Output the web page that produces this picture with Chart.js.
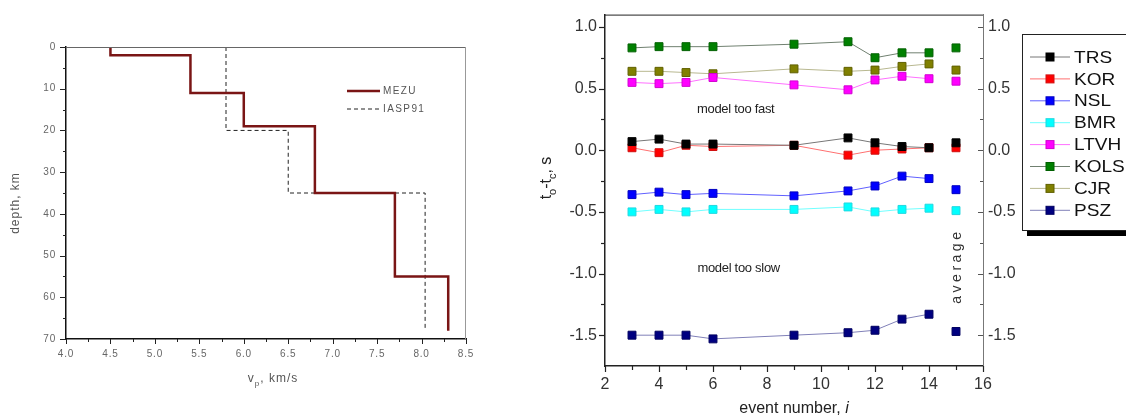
<!DOCTYPE html>
<html>
<head>
<meta charset="utf-8">
<script src="https://cdn.jsdelivr.net/npm/chart.js@4.4.1/dist/chart.umd.min.js"></script>
<style>
    html, body { margin: 0; padding: 0; background: #fff; }
    body { width: 1126px; height: 416px; position: relative; overflow: hidden; }
    #velChart { position: absolute; left: 0; top: 0; }
    #resChart { position: absolute; left: 530px; top: 0; }
</style>
</head>
<body>
<canvas id="velChart" width="490" height="416"></canvas>
<canvas id="resChart" width="596" height="416"></canvas>
<script>
// Velocity models (left panel)
const mezuVp = [4.5, 5.4, 6.0, 6.8, 7.7, 8.3];
const mezuDepth = [0, 2, 11, 19, 35, 55, 68];
const iaspVp = [5.8, 6.5, 8.04];
const iaspDepth = [0, 20, 35, 68];
const vpTicks = [4.0, 4.5, 5.0, 5.5, 6.0, 6.5, 7.0, 7.5, 8.0, 8.5];
const depthTicks = [0, 10, 20, 30, 40, 50, 60, 70];

// Residuals (right panel)
const events = [3, 4, 5, 6, 9, 11, 12, 13, 14];
const avgX = 15;
const stations = ['TRS', 'KOR', 'NSL', 'BMR', 'LTVH', 'KOLS', 'CJR', 'PSZ'];
const trs  = [0.07, 0.09, 0.05, 0.05, 0.04, 0.10, 0.06, 0.03, 0.02];
const kor  = [0.02, -0.02, 0.04, 0.03, 0.04, -0.04, 0.00, 0.01, 0.02];
const nsl  = [-0.36, -0.34, -0.36, -0.35, -0.37, -0.33, -0.29, -0.21, -0.23];
const bmr  = [-0.50, -0.48, -0.50, -0.48, -0.48, -0.46, -0.50, -0.48, -0.47];
const ltvh = [0.55, 0.54, 0.55, 0.59, 0.53, 0.49, 0.57, 0.60, 0.58];
const kols = [0.83, 0.84, 0.84, 0.84, 0.86, 0.88, 0.75, 0.79, 0.79];
const cjr  = [0.64, 0.64, 0.63, 0.62, 0.66, 0.64, 0.65, 0.68, 0.70];
const psz  = [-1.50, -1.50, -1.50, -1.53, -1.50, -1.48, -1.46, -1.37, -1.33];
const averages = [0.06, 0.02, -0.32, -0.49, 0.56, 0.83, 0.65, -1.47];
const resTicks = [-1.5, -1.0, -0.5, 0.0, 0.5, 1.0];
const eventTicks = [2, 4, 6, 8, 10, 12, 14, 16];

const FONT = '"Liberation Sans", Arial, sans-serif';
Chart.defaults.font.family = FONT;

// Build step profile points from layer velocities and boundaries
function steps(vp, depth) {
    const pts = [];
    vp.forEach((v, i) => {
        pts.push({ x: v, y: depth[i] });
        pts.push({ x: v, y: depth[i + 1] });
    });
    return pts;
}

// Text with subscript / italic parts, centred on (x, y)
function drawRich(ctx, parts, x, y, size, color, rotate, spacing) {
    ctx.save();
    ctx.translate(x, y);
    if (rotate) ctx.rotate(rotate);
    ctx.fillStyle = color;
    ctx.textAlign = 'left';
    ctx.textBaseline = 'alphabetic';
    ctx.letterSpacing = (spacing || 0) + 'px';
    const fontFor = p => (p.italic ? 'italic ' : '') + (p.sub ? Math.round(size * 0.7) : size) + 'px ' + FONT;
    let w = 0;
    parts.forEach(p => { ctx.font = fontFor(p); w += ctx.measureText(p.t).width; });
    let cx = -w / 2;
    parts.forEach(p => {
        ctx.font = fontFor(p);
        ctx.fillText(p.t, cx, size * 0.36 + (p.sub ? size * 0.3 : 0));
        cx += ctx.measureText(p.t).width;
    });
    ctx.restore();
}

// Major + minor tick marks
const tickMarks = {
    id: 'tickMarks',
    afterDraw(chart, args, opts) {
        const ctx = chart.ctx;
        const area = chart.chartArea;
        (opts.axes || []).forEach(a => {
            const s = chart.scales[a.id];
            const marks = [];
            s.ticks.forEach((t, i) => {
                marks.push([t.value, a.major]);
                if (i < s.ticks.length - 1) marks.push([(t.value + s.ticks[i + 1].value) / 2, a.minor]);
            });
            ctx.save();
            ctx.strokeStyle = a.color;
            ctx.lineWidth = a.width || 1;
            marks.forEach(([v, len]) => {
                const p = Math.round(s.getPixelForValue(v)) + 0.5;
                ctx.beginPath();
                if (a.side === 'bottom') {
                    ctx.moveTo(p, area.bottom); ctx.lineTo(p, area.bottom + a.dir * len);
                } else {
                    const base = a.side === 'left' ? area.left : area.right;
                    ctx.moveTo(base, p); ctx.lineTo(base + a.dir * len, p);
                }
                ctx.stroke();
            });
            ctx.restore();
        });
    }
};

// Frame lines not covered by axis borders
const frame = {
    id: 'frame',
    beforeDraw(chart, args, opts) {
        if (opts.spacing) chart.ctx.letterSpacing = opts.spacing + 'px';
    },
    afterDraw(chart, args, opts) {
        const ctx = chart.ctx;
        const a = chart.chartArea;
        ctx.letterSpacing = '0px';
        ctx.save();
        ctx.lineWidth = 1;
        if (opts.top) {
            ctx.strokeStyle = opts.top;
            ctx.beginPath(); ctx.moveTo(a.left, a.top + 0.5); ctx.lineTo(a.right, a.top + 0.5); ctx.stroke();
        }
        if (opts.right) {
            ctx.strokeStyle = opts.right;
            ctx.beginPath(); ctx.moveTo(a.right - 0.5, a.top); ctx.lineTo(a.right - 0.5, a.bottom); ctx.stroke();
        }
        ctx.restore();
    }
};

// Axis titles and annotations
const labels = {
    id: 'labels',
    afterDraw(chart, args, opts) {
        const ctx = chart.ctx;
        (opts.items || []).forEach(it => {
            const pos = it.at(chart);
            drawRich(ctx, it.parts, pos[0], pos[1], it.size, it.color, it.rotate, it.spacing);
        });
    }
};

// Legend for the velocity panel (inside the plot)
const velLegend = {
    id: 'velLegend',
    afterDraw(chart) {
        const ctx = chart.ctx;
        const a = chart.chartArea;
        const x0 = a.left + 281, x1 = a.left + 314;
        chart.data.datasets.forEach((ds, i) => {
            const y = a.top + 44 + i * 18;
            ctx.save();
            ctx.strokeStyle = ds.borderColor;
            ctx.lineWidth = ds.borderWidth;
            ctx.setLineDash(ds.borderDash || []);
            ctx.beginPath(); ctx.moveTo(x0, y); ctx.lineTo(x1, y); ctx.stroke();
            ctx.setLineDash([]);
            ctx.fillStyle = '#555';
            ctx.font = '10px ' + FONT;
            ctx.letterSpacing = '1.4px';
            ctx.textBaseline = 'middle';
            ctx.fillText(ds.label, x1 + 3, y + 0.5);
            ctx.restore();
        });
    }
};

// Boxed legend with shadow for the residual panel
const resLegend = {
    id: 'resLegend',
    afterDraw(chart) {
        const ctx = chart.ctx;
        const a = chart.chartArea;
        const bx = a.right + 39, by = 34, bw = 120, bh = 196;
        ctx.save();
        ctx.fillStyle = '#000';
        ctx.fillRect(bx + 5, by + bh, bw, 6);
        ctx.fillStyle = '#fff';
        ctx.fillRect(bx, by, bw, bh);
        ctx.strokeStyle = '#222';
        ctx.lineWidth = 1;
        ctx.strokeRect(bx + 0.5, by + 0.5, bw, bh);
        chart.data.datasets.forEach((ds, i) => {
            const y = by + 23 + i * 21.9;
            ctx.strokeStyle = ds.borderColor;
            ctx.lineWidth = 1;
            ctx.beginPath(); ctx.moveTo(bx + 8, y); ctx.lineTo(bx + 48, y); ctx.stroke();
            ctx.fillStyle = ds.pointBackgroundColor;
            ctx.fillRect(bx + 24, y - 4, 8, 8);
            ctx.strokeStyle = ds.pointBorderColor;
            ctx.strokeRect(bx + 24, y - 4, 8, 8);
            ctx.save();
            ctx.translate(bx + 52, y);
            ctx.scale(1.12, 1);
            ctx.fillStyle = '#111';
            ctx.font = '17px ' + FONT;
            ctx.textBaseline = 'middle';
            ctx.fillText(stations[i], 0, 1);
            ctx.restore();
        });
        ctx.restore();
    }
};

Chart.register(tickMarks, frame, labels, velLegend, resLegend);

// Left panel: P-wave velocity vs depth
new Chart(document.getElementById('velChart'), {
    type: 'line',
    data: {
        datasets: [
            { label: 'MEZU', data: steps(mezuVp, mezuDepth), borderColor: '#7a1515', borderWidth: 2.5, pointRadius: 0, fill: false, tension: 0 },
            { label: 'IASP91', data: steps(iaspVp, iaspDepth), borderColor: '#222', borderWidth: 1, borderDash: [4, 3], pointRadius: 0, fill: false, tension: 0 }
        ]
    },
    options: {
        responsive: false,
        animation: false,
        events: [],
        layout: { padding: { left: 0, right: 24, top: 47, bottom: 0 } },
        plugins: {
            legend: { display: false },
            tooltip: { enabled: false },
            resLegend: false,
            frame: { top: '#666', right: '#999', spacing: 0.8 },
            tickMarks: { axes: [
                { id: 'x', side: 'bottom', dir: 1, major: 5, minor: 3, color: '#222' },
                { id: 'y', side: 'left', dir: -1, major: 6, minor: 3, color: '#222' }
            ] },
            labels: { items: [
                { parts: [{ t: 'v' }, { t: 'p', sub: true }, { t: ', km/s' }], size: 12, color: '#555', spacing: 1,
                  at: c => [(c.chartArea.left + c.chartArea.right) / 2 + 7, c.chartArea.bottom + 39] },
                { parts: [{ t: 'depth, km' }], size: 12, color: '#555', spacing: 1, rotate: -Math.PI / 2,
                  at: c => [15, (c.chartArea.top + c.chartArea.bottom) / 2 + 10] }
            ] }
        },
        scales: {
            x: {
                type: 'linear', min: 4, max: 8.5,
                afterBuildTicks: s => { s.ticks = vpTicks.map(v => ({ value: v })); },
                afterFit: s => { s.height = 77; },
                grid: { display: false, drawTicks: true, tickLength: 5 },
                border: { color: '#111', width: 1.5 },
                ticks: { padding: 4, color: '#666', font: { size: 10 }, autoSkip: false, maxRotation: 0, callback: v => Number(v).toFixed(1) }
            },
            y: {
                type: 'linear', min: 0, max: 70, reverse: true,
                afterBuildTicks: s => { s.ticks = depthTicks.map(v => ({ value: v })); },
                afterFit: s => { s.width = 66; },
                grid: { display: false, drawTicks: true, tickLength: 6 },
                border: { color: '#111', width: 1.5 },
                ticks: { padding: 4, color: '#666', font: { size: 10 }, autoSkip: false, callback: v => String(v) }
            }
        }
    }
});

// Right panel: travel-time residuals per station
const seriesValues = [trs, kor, nsl, bmr, ltvh, kols, cjr, psz];
const markerColors = ['#000000', '#ff0000', '#0000ff', '#00ffff', '#ff00ff', '#008000', '#808000', '#000080'];
const markerBorders = ['#000000', '#d01010', '#0000c0', '#20d8e0', '#d000d0', '#006000', '#606000', '#000060'];
const lineColors = ['#777777', '#ff7070', '#6060ff', '#70ffff', '#ff70ff', '#708070', '#b8b890', '#8080b8'];

const resDatasets = stations.map((name, i) => ({
    label: name,
    data: events.map((x, j) => ({ x: x, y: seriesValues[i][j] })).concat({ x: avgX, y: averages[i] }),
    borderColor: lineColors[i],
    borderWidth: 1,
    pointStyle: 'rect',
    pointRadius: 5.6,
    pointBackgroundColor: markerColors[i],
    pointBorderColor: markerBorders[i],
    pointBorderWidth: 1,
    fill: false,
    tension: 0,
    segment: { borderColor: ctx => ctx.p1.parsed.x === avgX ? 'rgba(0,0,0,0)' : undefined }
}));

new Chart(document.getElementById('resChart'), {
    type: 'line',
    data: { datasets: resDatasets },
    options: {
        responsive: false,
        animation: false,
        events: [],
        layout: { padding: { left: 0, right: 0, top: 7, bottom: 0 } },
        plugins: {
            legend: { display: false },
            tooltip: { enabled: false },
            velLegend: false,
            frame: { top: '#222' },
            tickMarks: { axes: [
                { id: 'x', side: 'bottom', dir: 1, major: 6, minor: 4, color: '#222', width: 1.2 },
                { id: 'y', side: 'left', dir: -1, major: 6, minor: 4, color: '#222', width: 1.2 },
                { id: 'y2', side: 'right', dir: -1, major: 5, minor: 3, color: '#555' }
            ] },
            labels: { items: [
                { parts: [{ t: 'event number, ' }, { t: 'i', italic: true }], size: 16, color: '#222',
                  at: c => [(c.chartArea.left + c.chartArea.right) / 2, c.chartArea.bottom + 41] },
                { parts: [{ t: 't' }, { t: 'o', sub: true }, { t: '-t' }, { t: 'c', sub: true }, { t: ', s' }], size: 16, color: '#222', rotate: -Math.PI / 2,
                  at: c => [15, 178] },
                { parts: [{ t: 'model too fast' }], size: 13, color: '#222', spacing: -0.3,
                  at: c => [c.scales.x.getPixelForValue(6.84), c.scales.y.getPixelForValue(0.34)] },
                { parts: [{ t: 'model too slow' }], size: 13, color: '#222', spacing: -0.3,
                  at: c => [c.scales.x.getPixelForValue(6.95), c.scales.y.getPixelForValue(-0.95)] },
                { parts: [{ t: 'average' }], size: 14, color: '#333', spacing: 3.5, rotate: -Math.PI / 2,
                  at: c => [c.scales.x.getPixelForValue(avgX), c.scales.y.getPixelForValue(-0.94)] }
            ] }
        },
        scales: {
            x: {
                type: 'linear', min: 2, max: 16,
                afterBuildTicks: s => { s.ticks = eventTicks.map(v => ({ value: v })); },
                afterFit: s => { s.height = 50; },
                grid: { display: false, drawTicks: true, tickLength: 6 },
                border: { color: '#222', width: 1.5 },
                ticks: { padding: 3, color: '#333', font: { size: 16 }, autoSkip: false, maxRotation: 0, callback: v => String(v) }
            },
            y: {
                type: 'linear', min: -1.75, max: 1.1,
                afterBuildTicks: s => { s.ticks = resTicks.map(v => ({ value: v })); },
                afterFit: s => { s.width = 75; },
                grid: { display: false, drawTicks: true, tickLength: 6 },
                border: { color: '#222', width: 1.5 },
                ticks: { padding: 2, color: '#333', font: { size: 16 }, autoSkip: false, callback: v => Number(v).toFixed(1) }
            },
            y2: {
                type: 'linear', position: 'right', min: -1.75, max: 1.1,
                afterBuildTicks: s => { s.ticks = resTicks.map(v => ({ value: v })); },
                afterFit: s => { s.width = 143; },
                grid: { display: false, drawTicks: false },
                border: { color: '#777', width: 1 },
                ticks: { padding: 5, color: '#333', font: { size: 16 }, autoSkip: false, callback: v => Number(v).toFixed(1) }
            }
        }
    }
});
</script>
</body>
</html>
